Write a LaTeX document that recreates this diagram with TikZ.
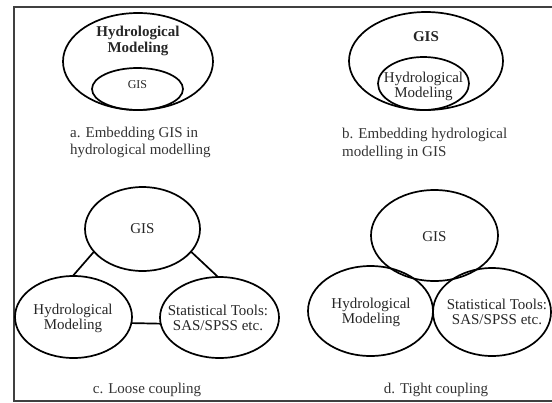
\documentclass[tikz,border=0pt]{standalone}
\usepackage{fontspec}
\setmainfont{Liberation Serif}
\usetikzlibrary{shapes.geometric}
\begin{document}
\begin{tikzpicture}[x=1pt,y=-1pt,
  ring/.style={draw, ellipse, line width=1.7pt, inner sep=0pt, outer sep=0pt},
  txt/.style={font=\fontsize{15}{15}\selectfont, inner sep=0pt, align=center, text=black!85},
  boldtxt/.style={txt, font=\bfseries\fontsize{15}{16}\selectfont},
  smalltxt/.style={txt, font=\fontsize{12}{13}\selectfont},
  caption/.style={font=\fontsize{15}{17}\selectfont, inner sep=0pt, align=left, text=black!80},
  link/.style={line width=1.7pt},
  frame/.style={line width=1.2pt, draw=black!75}]
\useasboundingbox (0,0) rectangle (552,402);
\draw[frame] (552,7) -- (14,7) -- (14,401) -- (552,401);

% (a) GIS embedded in hydrological modeling
\node[ring, minimum width=150pt, minimum height=97pt] (aHM) at (138,61.5) {};
\node[ring, minimum width=91pt, minimum height=42pt] (aGIS) at (137.5,89) {};
\node[boldtxt] (aHMt) at (138,41) {Hydrological\\Modeling};
\node[smalltxt] (aGISt) at (137.5,85) {GIS};
\node[caption, anchor=north west] (capA) at (70,127) {a. Embedding GIS in\\hydrological modelling};

% (b) hydrological modeling embedded in GIS
\node[ring, minimum width=154pt, minimum height=98pt] (bGIS) at (426,61) {};
\node[ring, minimum width=91pt, minimum height=53pt] (bHM) at (423.5,83.5) {};
\node[boldtxt] (bGISt) at (426,37) {GIS};
\node[txt] (bHMt) at (423.5,86) {Hydrological\\Modeling};
\node[caption, anchor=north west, font=\fontsize{15}{18}\selectfont] (capB) at (342,128) {b. Embedding hydrological\\modelling in GIS};

% (c) loose coupling
\node[ring, minimum width=115pt, minimum height=84pt] (cGIS) at (142.5,229) {};
\node[ring, minimum width=117pt, minimum height=82pt] (cHM) at (73.5,317) {};
\node[ring, minimum width=119pt, minimum height=81pt] (cST) at (219.5,317.5) {};
\node[txt] (cGISt) at (142.5,229) {GIS};
\node[txt] (cHMt) at (73,318) {Hydrological\\Modeling};
\node[txt] (cSTt) at (218,318) {Statistical Tools:\\SAS/SPSS etc.};
\draw[link] (cGIS.205) -- (cHM.91);
\draw[link] (cGIS.335) -- (cST.92);
\draw[link] (cHM.354) -- (cST.186);
\node[caption, anchor=base] (capC) at (147,393) {c. Loose coupling};

% (d) tight coupling
\node[ring, minimum width=127pt, minimum height=91pt] (dGIS) at (434.5,235.5) {};
\node[ring, minimum width=125pt, minimum height=90pt] (dHM) at (370.5,311) {};
\node[ring, minimum width=118pt, minimum height=88pt] (dST) at (492,312) {};
\node[txt] (dGISt) at (434.5,237) {GIS};
\node[txt] (dHMt) at (371,312) {Hydrological\\Modeling};
\node[txt] (dSTt) at (497,312) {Statistical Tools:\\SAS/SPSS etc.};
\node[caption, anchor=base] (capD) at (436,393) {d. Tight coupling};
\end{tikzpicture}
\end{document}
